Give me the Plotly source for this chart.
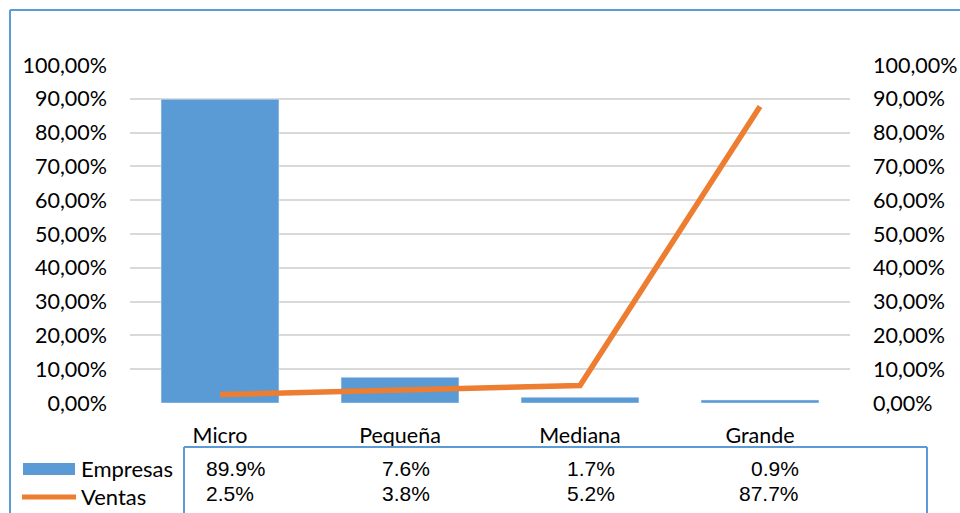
import plotly.graph_objects as go

categorias = ["Micro", "Pequeña", "Mediana", "Grande"]
empresas = [0.899, 0.076, 0.017, 0.009]
ventas = [0.025, 0.038, 0.052, 0.877]
empresas_txt = ["89.9%", "7.6%", "1.7%", "0.9%"]
ventas_txt = ["2.5%", "3.8%", "5.2%", "87.7%"]
ticks = [0, 0.1, 0.2, 0.3, 0.4, 0.5, 0.6, 0.7, 0.8, 0.9, 1.0]

BLUE = "#5B9BD5"
ORANGE = "#ED7D31"
W, H = 960, 513
L, R, T, B = 130, 850, 65, 403

def px(x):
    return (x - L) / (R - L)

def py(y):
    return (B - y) / (B - T)

fig = go.Figure()
fig.add_trace(go.Bar(x=categorias, y=empresas, name="Empresas", marker_color=BLUE,
                     width=0.655, yaxis="y"))
fig.add_trace(go.Scatter(x=categorias, y=ventas, name="Ventas", mode="lines",
                         line=dict(color=ORANGE, width=5.5), yaxis="y2"))

axis_font = dict(family="Lato, Calibri, sans-serif", size=21.5, color="#000000")
fig.update_layout(
    width=W, height=H,
    margin=dict(l=L, r=W - R, t=T, b=H - B, autoexpand=False),
    plot_bgcolor="white", paper_bgcolor="white",
    separators=",.",
    showlegend=False,
    xaxis=dict(showgrid=False, showline=False, ticks="", tickfont=axis_font,
               ticklabelstandoff=17, range=[-0.5, 3.5], automargin=False),
    yaxis=dict(range=[0, 1.0], tickvals=ticks, tickformat=".2%", showgrid=True,
               gridcolor="#D9D9D9", gridwidth=1.5, zeroline=False, showline=False,
               tickfont=axis_font, ticklabelstandoff=22, automargin=False),
    yaxis2=dict(range=[0, 1.0], tickvals=ticks, tickformat=".2%", overlaying="y",
                side="right", showgrid=False, zeroline=False, showline=False,
                tickfont=axis_font, ticklabelstandoff=22, automargin=False),
)

shapes = []
shapes.append(dict(type="line", xref="paper", yref="paper", x0=px(10), x1=px(965),
                   y0=py(10), y1=py(10), line=dict(color=BLUE, width=2)))
shapes.append(dict(type="line", xref="paper", yref="paper", x0=px(10), x1=px(10),
                   y0=py(10), y1=py(520), line=dict(color=BLUE, width=2)))
shapes.append(dict(type="line", xref="paper", yref="paper", x0=px(184), x1=px(927),
                   y0=py(447), y1=py(447), line=dict(color=BLUE, width=2)))
shapes.append(dict(type="line", xref="paper", yref="paper", x0=px(184), x1=px(184),
                   y0=py(447), y1=py(520), line=dict(color=BLUE, width=2)))
shapes.append(dict(type="line", xref="paper", yref="paper", x0=px(927), x1=px(927),
                   y0=py(447), y1=py(520), line=dict(color=BLUE, width=2)))
shapes.append(dict(type="rect", xref="paper", yref="paper", x0=px(23), x1=px(75),
                   y0=py(475), y1=py(463), fillcolor=BLUE, line=dict(width=0)))
shapes.append(dict(type="line", xref="paper", yref="paper", x0=px(22), x1=px(76),
                   y0=py(497), y1=py(497), line=dict(color=ORANGE, width=5)))
fig.update_layout(shapes=shapes)

ann = []
leg_font = dict(family="Lato, Calibri, sans-serif", size=22, color="#000000")
ann.append(dict(text="Empresas", xref="paper", yref="paper", x=px(79), y=py(469),
                xanchor="left", yanchor="middle", showarrow=False, font=leg_font))
ann.append(dict(text="Ventas", xref="paper", yref="paper", x=px(79), y=py(497),
                xanchor="left", yanchor="middle", showarrow=False, font=leg_font))

tab_font = dict(family="Liberation Sans, Arial, sans-serif", size=21, color="#000000")
col_anchor = ["left", "right", "right", "right"]
col_shift = [-16, 32, 37, 41]
for i, c in enumerate(categorias):
    for txt, yy in ((empresas_txt[i], 469), (ventas_txt[i], 493)):
        ann.append(dict(text=txt, xref="x", yref="paper", x=c, y=py(yy),
                        xanchor=col_anchor[i], yanchor="middle", xshift=col_shift[i],
                        showarrow=False, font=tab_font))
fig.update_layout(annotations=ann)

fig.write_html("out.html", config={"displayModeBar": False},
               post_script="document.body.style.margin='0';")
